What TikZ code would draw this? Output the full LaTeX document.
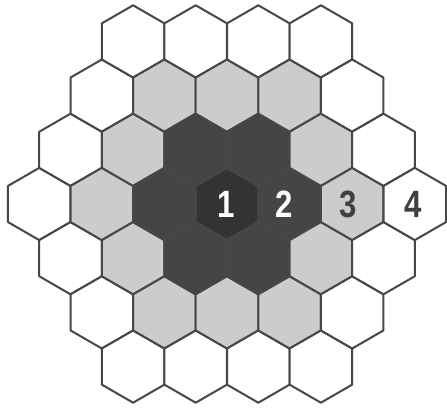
\documentclass[tikz,border=0pt]{standalone}
\usepackage{fontspec}
\newfontfamily\numfont[FakeStretch=0.82]{Liberation Sans}
\tikzset{
  hexline/.style={draw=black!72,line width=2pt,line join=round},
  ringlabel/.style={font=\numfont\bfseries\fontsize{38}{38}\selectfont,inner sep=0pt}
}
\begin{document}
\begin{tikzpicture}[x=1pt,y=1pt]
    \useasboundingbox (0,0) rectangle (447,409);
    % hexagonal cells, shaded by ring
    \foreach \q in {-3,...,3}
    \foreach \r in {-3,...,3}
    {
      \pgfmathtruncatemacro\ring{max(abs(\q),abs(\r),abs(\q+\r))}
      \ifnum\ring<4
        \ifcase\ring \def\hexfill{black!80}\or \def\hexfill{black!73}\or \def\hexfill{black!20}\else \def\hexfill{white}\fi
        \path [hexline,fill=\hexfill] ({227+62.6*(\q+\r/2)},{205-54.2*\r})
          +(90:36.1) -- +(150:36.1) -- +(210:36.1) -- +(270:36.1) -- +(330:36.1) -- +(30:36.1) -- cycle;
      \fi
    }
    \node [ringlabel,text=white] (one) at (226,205) {1};
    \node [ringlabel,text=white] (two) at (284,205) {2};
    \node [ringlabel,text=black!75] (three) at (348,205) {3};
    \node [ringlabel,text=black!75] (four) at (413,205) {4};
\end{tikzpicture}
\end{document}
